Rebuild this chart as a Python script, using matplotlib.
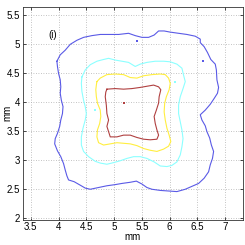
import matplotlib
matplotlib.use("Agg")
import matplotlib.pyplot as plt

blue_x = [3.97,4.03,4.12,4.21,4.33,4.45,4.60,4.75,4.93,5.08,5.26,5.38,5.50,5.62,5.72,5.80,5.90,6.01,6.16,6.31,6.46,6.55,6.55,6.62,6.68,6.74,6.82,6.84,6.85,6.88,6.86,6.80,6.73,6.64,6.55,6.58,6.64,6.67,6.72,6.75,6.79,6.77,6.73,6.70,6.62,6.52,6.40,6.28,6.13,5.98,5.83,5.68,5.59,5.50,5.40,5.29,5.14,5.02,4.87,4.72,4.57,4.48,4.39,4.28,4.18,4.15,4.12,4.09,4.04,3.98,3.93,3.94,3.98,4.02,4.04,4.07,4.08,4.05,4.03,4.04,4.03,4.00,3.98,3.97]
blue_y = [4.70,4.81,4.89,4.99,5.06,5.11,5.14,5.16,5.16,5.16,5.18,5.14,5.11,5.11,5.15,5.22,5.22,5.20,5.18,5.16,5.13,5.08,5.02,4.95,4.85,4.73,4.65,4.55,4.38,4.25,4.15,4.06,3.96,3.86,3.78,3.69,3.59,3.49,3.38,3.26,3.15,3.03,2.92,2.80,2.69,2.60,2.55,2.50,2.46,2.47,2.48,2.50,2.53,2.59,2.64,2.62,2.60,2.58,2.56,2.53,2.50,2.52,2.57,2.63,2.66,2.73,2.83,2.94,3.06,3.16,3.28,3.37,3.46,3.58,3.69,3.80,3.92,4.03,4.15,4.26,4.38,4.49,4.61,4.70]

cyan_x = [4.42,4.48,4.57,4.69,4.81,4.90,5.02,5.14,5.26,5.38,5.47,5.59,5.74,5.89,6.01,6.13,6.22,6.25,6.28,6.24,6.19,6.16,6.16,6.19,6.22,6.24,6.22,6.19,6.13,6.04,5.95,5.83,5.72,5.59,5.47,5.35,5.23,5.11,5.00,4.87,4.75,4.66,4.54,4.45,4.41,4.41,4.44,4.48,4.50,4.48,4.45,4.42,4.41,4.42]
cyan_y = [4.43,4.55,4.64,4.70,4.73,4.75,4.72,4.70,4.68,4.61,4.65,4.68,4.70,4.70,4.69,4.65,4.58,4.46,4.35,4.23,4.09,3.95,3.80,3.66,3.52,3.37,3.23,3.09,2.97,2.91,2.89,2.90,2.97,3.03,3.06,3.06,3.03,2.99,2.96,2.93,2.95,2.98,3.06,3.15,3.26,3.40,3.55,3.69,3.80,3.92,4.03,4.18,4.32,4.43]

yellow_x = [4.69,4.75,4.87,5.02,5.17,5.29,5.41,5.53,5.68,5.83,5.92,5.98,6.01,5.99,5.94,5.91,5.90,5.92,5.95,5.99,6.02,5.98,5.89,5.77,5.65,5.53,5.41,5.29,5.17,5.05,4.93,4.81,4.72,4.69,4.70,4.74,4.76,4.75,4.70,4.68,4.67,4.68,4.69]
yellow_y = [4.35,4.41,4.47,4.48,4.47,4.42,4.41,4.45,4.47,4.48,4.47,4.41,4.32,4.21,4.09,3.98,3.83,3.69,3.55,3.43,3.32,3.24,3.19,3.15,3.17,3.20,3.25,3.28,3.29,3.30,3.28,3.26,3.30,3.40,3.52,3.63,3.75,3.86,3.98,4.09,4.21,4.29,4.35]

red_x = [4.87,5.02,5.17,5.32,5.47,5.59,5.71,5.80,5.84,5.81,5.80,5.76,5.72,5.74,5.77,5.80,5.77,5.65,5.53,5.41,5.29,5.17,5.05,4.93,4.90,4.87,4.90,4.87,4.86,4.84,4.85,4.87]
red_y = [4.22,4.23,4.22,4.23,4.25,4.27,4.29,4.26,4.21,4.09,3.98,3.86,3.75,3.63,3.52,3.43,3.36,3.35,3.36,3.39,3.43,3.43,3.40,3.40,3.49,3.58,3.69,3.80,3.94,4.09,4.17,4.22]

red_dot_x = [5.18]
red_dot_y = [3.99]
blue_dot_x = [6.60, 5.42]
blue_dot_y = [4.71, 5.04]
cyan_dot_x = [4.66, 6.10]
cyan_dot_y = [3.86, 4.35]

xticks = [3.5, 4, 4.5, 5, 5.5, 6, 6.5, 7]
yticks = [2, 2.5, 3, 3.5, 4, 4.5, 5, 5.5]

plt.rcParams['font.family'] = ['Liberation Sans', 'DejaVu Sans']
fig = plt.figure(figsize=(2.45, 2.45), dpi=100)
ax = fig.add_axes([0.093, 0.104, 0.899, 0.867])

lw = 0.8
ax.plot(blue_x, blue_y, color='#5a5ae6', lw=lw)
ax.plot(cyan_x, cyan_y, color='#8cffff', lw=lw)
ax.plot(yellow_x, yellow_y, color='#ffee40', lw=lw)
ax.plot(red_x, red_y, color='#b04040', lw=lw)
ax.plot(red_dot_x, red_dot_y, 's', color='#b04040', ms=1.5, mew=0)
ax.plot(blue_dot_x, blue_dot_y, 's', color='#5a5ae6', ms=1.5, mew=0)
ax.plot(cyan_dot_x, cyan_dot_y, 's', color='#8cffff', ms=1.5, mew=0)

ax.set_xlim(3.356, 7.32)
ax.set_ylim(1.98, 5.63)
ax.set_xticks(xticks)
ax.set_yticks(yticks)
ax.set_xticklabels([f"{t:g}" for t in xticks])
ax.set_yticklabels([f"{t:g}" for t in yticks])
ax.tick_params(direction='in', length=2.5, width=0.5, labelsize=7, pad=2,
               top=True, right=True)
ax.grid(True, linestyle=(0, (1, 2)), color='#b0b0b0', lw=0.6)
for s in ax.spines.values():
    s.set_linewidth(0.6)
    s.set_color('#333333')
ax.set_xlabel('mm', fontsize=7, va='center')
ax.set_ylabel('mm', fontsize=7, va='center')
ax.xaxis.set_label_coords(0.5, -0.082)
ax.yaxis.set_label_coords(-0.072, 0.5)
ax.text(3.90, 5.15, '(i)', fontsize=7, ha='center', va='center')

fig.savefig('out.png', dpi=100)
